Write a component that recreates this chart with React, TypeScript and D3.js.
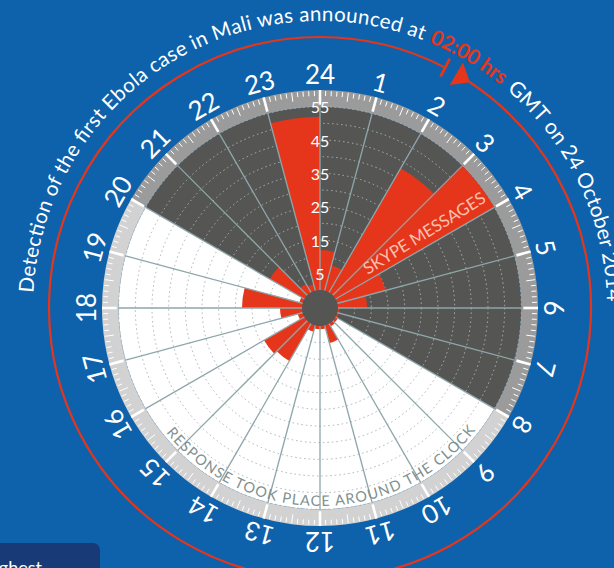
import React from 'react';
import * as d3 from 'd3';

const W = 614;
const H = 568;
const CX = 320;
const CY = 308;

const hourLabels = ['24', '1', '2', '3', '4', '5', '6', '7', '8', '9', '10', '11', '12', '13', '14', '15', '16', '17', '18', '19', '20', '21', '22', '23'];
// Skype messages per hour (hour h = wedge from h:00 to h+1:00)
const messageCounts = [12, 7.8, 43, 55, 15, 8.7, 0.5, 0.5, 0.8, 1, 5.5, 1, 1, 2, 13, 14, 1.5, 6.6, 18, 1, 12, 3, 2, 52];
const valueTickLabels = [5, 15, 25, 35, 45, 55];
const gridValues = [5, 10, 15, 20, 25, 30, 35, 40, 45, 50, 55];
const nightStartHour = 20;
const nightEndHour = 8;
const titleParts = ['Detection of the first Ebola case in Mali was announced at', '02:00 hrs', 'GMT on 24 October 2014'];
const overlayLabel = 'SKYPE MESSAGES';
const footerLabel = 'RESPONSE TOOK PLACE AROUND THE CLOCK';
const boxLabel = 'Highest';

const BG = '#0e62ab';
const RED = '#e5361b';
const DARK = '#555554';
const FONT = 'Lato, "Open Sans", sans-serif';

const rad = (deg: number) => (deg * Math.PI) / 180;
const polar = (deg: number, r: number): [number, number] => [CX + r * Math.sin(rad(deg)), CY - r * Math.cos(rad(deg))];

export default function App() {
  const angle = d3.scaleLinear().domain([0, 24]).range([0, 2 * Math.PI]);
  const angleDeg = d3.scaleLinear().domain([0, 24]).range([0, 360]);
  const radius = d3.scaleLinear().domain([0, 60]).range([18, 218]);
  const rMax = radius(55);
  const rRing = radius(60);

  const arc = d3.arc<any>();

  const darkSector = arc({ innerRadius: 0, outerRadius: rMax, startAngle: angle(nightStartHour), endAngle: angle(nightEndHour + 24) }) as string;
  const lightSector = arc({ innerRadius: 0, outerRadius: rMax, startAngle: angle(nightEndHour), endAngle: angle(nightStartHour) }) as string;
  const darkRing = arc({ innerRadius: rMax, outerRadius: rRing, startAngle: angle(nightStartHour), endAngle: angle(nightEndHour + 24) }) as string;
  const lightRing = arc({ innerRadius: rMax, outerRadius: rRing, startAngle: angle(nightEndHour), endAngle: angle(nightStartHour) }) as string;

  const minorTicks = d3.range(0, 240).filter((i) => i % 10 !== 0);

  // title arc path
  const tR = 287;
  const tStart = -87;
  const tEnd = 110;
  const [tx0, ty0] = polar(tStart, tR);
  const [tx1, ty1] = polar(tEnd, tR);
  const titlePath = `M${tx0},${ty0} A${tR},${tR} 0 1 1 ${tx1},${ty1}`;
  const off = (deg: number) => (rad(deg - tStart) * tR);

  // footer arc path (counterclockwise along the bottom)
  const fR = 198;
  const [fx0, fy0] = polar(231, fR);
  const [fx1, fy1] = polar(127, fR);
  const footerPath = `M${fx0},${fy0} A${fR},${fR} 0 0 0 ${fx1},${fy1}`;

  // red circle
  const cR = 271;
  const cStart = 33.4;
  const cEnd = 27.5 + 360;
  const [cx0, cy0] = polar(cStart, cR);
  const [cx1, cy1] = polar(cEnd, cR);
  const circlePath = `M${cx0},${cy0} A${cR},${cR} 0 1 1 ${cx1},${cy1}`;
  const barA = polar(27.5, 261);
  const barB = polar(27.5, 281);
  const triPts = [polar(30.2, 258), polar(30.2, 284), polar(33.6, 271)];

  return (
    <svg width={W} height={H} style={{ position: 'absolute', left: 0, top: 0, display: 'block' }} fontFamily={FONT}>
      <defs>
        <path id="titleArc" d={titlePath} />
        <path id="footerArc" d={footerPath} />
      </defs>
      <rect x={0} y={0} width={W} height={H} fill={BG} />

      <g transform={`translate(${CX},${CY})`}>
        <path d={darkSector} fill={DARK} />
        <path d={lightSector} fill="#ffffff" />
        <path d={darkRing} fill="#9b9b9b" />
        <path d={lightRing} fill="#d2d2d2" />
        {gridValues.map((v) => (
          <circle key={v} r={radius(v)} fill="none" stroke="#a7b4b6" strokeWidth={1} strokeDasharray="1.5 3" />
        ))}
        {messageCounts.map((v, h) => (
          <path
            key={h}
            d={arc({ innerRadius: 0, outerRadius: radius(v), startAngle: angle(h), endAngle: angle(h + 1) }) as string}
            fill={RED}
          />
        ))}
        {hourLabels.map((_, h) => {
          const a = angle(h);
          return (
            <line key={h} x1={0} y1={0} x2={rMax * Math.sin(a)} y2={-rMax * Math.cos(a)} stroke="#8fa6a9" strokeWidth={1.3} />
          );
        })}
        {minorTicks.map((i) => {
          const a = angle(i / 10);
          const len = i % 5 === 0 ? 9 : 5;
          return (
            <line
              key={i}
              x1={(rRing - 1) * Math.sin(a)}
              y1={-(rRing - 1) * Math.cos(a)}
              x2={(rRing - 1 - len) * Math.sin(a)}
              y2={-(rRing - 1 - len) * Math.cos(a)}
              stroke="#ffffff"
              strokeWidth={1}
            />
          );
        })}
        {hourLabels.map((_, h) => {
          const a = angle(h);
          return (
            <line
              key={'M' + h}
              x1={(rMax + 2) * Math.sin(a)}
              y1={-(rMax + 2) * Math.cos(a)}
              x2={rRing * Math.sin(a)}
              y2={-rRing * Math.cos(a)}
              stroke="#ffffff"
              strokeWidth={2.6}
            />
          );
        })}
        <circle r={radius(0)} fill={DARK} />
        {valueTickLabels.map((v) => (
          <text key={v} x={0} y={-radius(v)} textAnchor="middle" dominantBaseline="central" fill="#ffffff" fontSize={16}>
            {v}
          </text>
        ))}
        <g transform={`rotate(${58.3 - 90})`}>
          <text x={58} y={-3} fill="#fbc0ae" fontSize={16.8}>
            {overlayLabel}
          </text>
        </g>
      </g>

      {hourLabels.map((lbl, h) => {
        const a = angleDeg(h);
        const [x, y] = polar(a, 234);
        return (
          <text
            key={lbl}
            transform={`translate(${x},${y}) rotate(${a})`}
            textAnchor="middle"
            dominantBaseline="central"
            fill="#ffffff"
            fontSize={26}
          >
            {lbl}
          </text>
        );
      })}

      <text fill="#7f908f" fontSize={14.5}>
        <textPath href="#footerArc" startOffset={0} textLength={355} lengthAdjust="spacing">
          {footerLabel}
        </textPath>
      </text>

      <path d={circlePath} fill="none" stroke={RED} strokeWidth={2.2} />
      <line x1={barA[0]} y1={barA[1]} x2={barB[0]} y2={barB[1]} stroke={RED} strokeWidth={2.8} />
      <polygon points={triPts.map((p) => p.join(',')).join(' ')} fill={RED} />

      <text fill="#ffffff" fontSize={20.5}>
        <textPath href="#titleArc" startOffset={0} textLength={off(21)} lengthAdjust="spacing">
          {titleParts[0]}
        </textPath>
      </text>
      <text fill={RED} fontSize={20.5} fontWeight={700}>
        <textPath href="#titleArc" startOffset={off(22.3)} textLength={off(39) - off(22.3)} lengthAdjust="spacing">
          {titleParts[1]}
        </textPath>
      </text>
      <text fill="#ffffff" fontSize={21}>
        <textPath href="#titleArc" startOffset={off(40.5)}>
          {titleParts[2]}
        </textPath>
      </text>

      <rect x={-8} y={543} width={108} height={40} rx={7} fill="#183b78" />
      <text x={42} y={574} textAnchor="end" fill="#ffffff" fontSize={18}>
        {boxLabel}
      </text>
    </svg>
  );
}
